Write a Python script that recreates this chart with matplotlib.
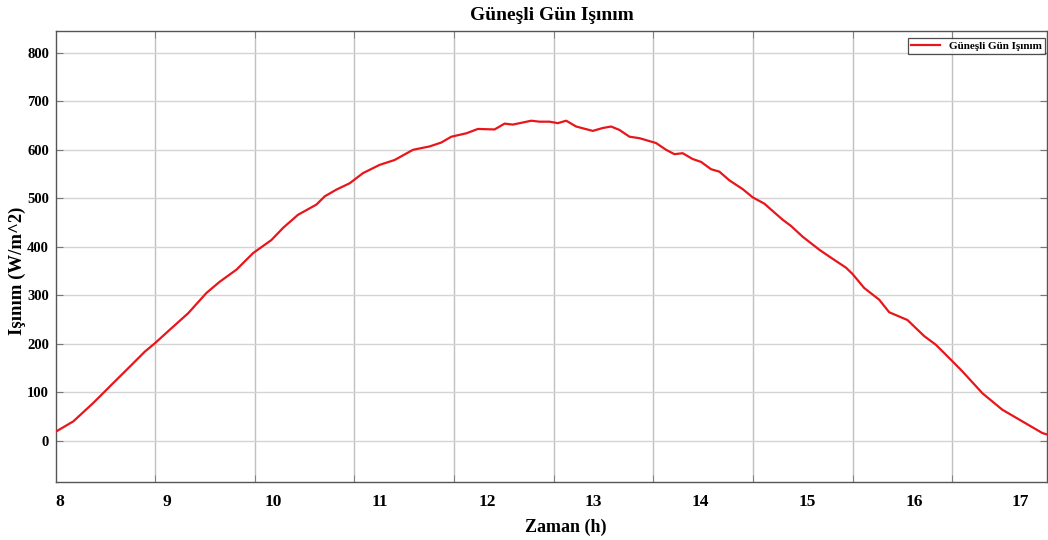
import numpy as np
import matplotlib
matplotlib.use("Agg")
import matplotlib.pyplot as plt
from matplotlib.ticker import FixedLocator

# Data
hours = [7.963, 8.125, 8.312, 8.499, 8.655, 8.796, 8.889, 9.029, 9.201, 9.373,
         9.497, 9.654, 9.809, 9.981, 10.090, 10.230, 10.402, 10.480, 10.590, 10.714,
         10.839, 10.995, 11.135, 11.307, 11.463, 11.572, 11.666, 11.806, 11.915, 12.071,
         12.165, 12.242, 12.415, 12.492, 12.586, 12.664, 12.742, 12.836, 12.991, 13.085,
         13.163, 13.241, 13.335, 13.428, 13.584, 13.678, 13.756, 13.833, 13.927, 14.006,
         14.099, 14.177, 14.271, 14.395, 14.489, 14.598, 14.769, 14.848, 14.956, 15.113,
         15.206, 15.363, 15.424, 15.534, 15.674, 15.768, 15.939, 16.095, 16.205, 16.360,
         16.454, 16.641, 16.828, 17.015, 17.202, 17.246]
irradiance = [19, 40, 78, 119, 153, 184, 201, 229, 263, 305,
              328, 353, 387, 414, 439, 466, 487, 504, 518, 531,
              552, 569, 579, 600, 607, 615, 627, 634, 643, 642,
              654, 652, 660, 658, 658, 655, 660, 648, 639, 645,
              648, 641, 627, 624, 614, 600, 591, 593, 581, 575,
              560, 555, 537, 519, 502, 489, 456, 443, 421, 394,
              380, 357, 344, 315, 291, 265, 249, 216, 198, 164,
              143, 98, 64, 40, 16, 13]
x_tick_labels = [8, 9, 10, 11, 12, 13, 14, 15, 16, 17]
y_ticks = [0, 100, 200, 300, 400, 500, 600, 700, 800]

title = "Güneşli Gün Işınım"
xlabel = "Zaman (h)"
ylabel = "Işınım (W/m^2)"
legend_label = "Güneşli Gün Işınım"

plt.rcParams['font.family'] = ['Liberation Serif', 'DejaVu Serif']
plt.rcParams['font.weight'] = 'bold'

fig = plt.figure(figsize=(10.48, 5.40), dpi=100)
ax = fig.add_axes([56/1048, 1-482/540, (1047-56)/1048, (482-31)/540])

ax.plot(hours, irradiance, color='#e8161b', lw=1.6, label=legend_label, zorder=3)

ax.set_xlim(7.963, 17.246)
ax.set_ylim(-85, 845)

# labels at integer hours, grid/ticks at separate positions
ax.xaxis.set_major_locator(FixedLocator(x_tick_labels))
ax.set_xticklabels([str(v) for v in x_tick_labels], fontsize=12.5, fontweight='bold')
grid_x = 8.892 + 0.9333 * np.arange(9)
ax.xaxis.set_minor_locator(FixedLocator(grid_x))
ax.tick_params(axis='x', which='major', length=0, pad=9)
ax.tick_params(axis='x', which='minor', direction='in', length=5, top=True, bottom=True,
               color='#777777')

ax.set_yticks(y_ticks)
ax.set_yticklabels([str(v) for v in y_ticks], fontsize=10.5, fontweight='bold')
ax.tick_params(axis='y', which='major', direction='in', length=5, left=True, right=True,
               pad=5, color='#777777')

ax.grid(which='minor', axis='x', color='#c0c0c0', lw=1.0)
ax.grid(which='major', axis='y', color='#d4d4d4', lw=1.0)
ax.set_axisbelow(True)

for s in ax.spines.values():
    s.set_color('#555555')
    s.set_linewidth(1.0)

ax.set_title(title, fontsize=14, fontweight='bold', pad=8)
ax.set_xlabel(xlabel, fontsize=13, fontweight='bold')
ax.set_ylabel(ylabel, fontsize=13.5, fontweight='bold')
ax.xaxis.set_label_coords(0.514, -0.082)
ax.yaxis.set_label_coords(-0.030, 0.468)

leg = ax.legend(loc='upper right', fontsize=8, frameon=True, fancybox=False,
                borderaxespad=0.0, handlelength=2.6, borderpad=0.3, handletextpad=0.8,
                bbox_to_anchor=(0.998, 0.9845))
leg.get_frame().set_edgecolor('#222222')
leg.get_frame().set_linewidth(0.9)
for t in leg.get_texts():
    t.set_fontweight('bold')

fig.savefig('out.png', dpi=100)
